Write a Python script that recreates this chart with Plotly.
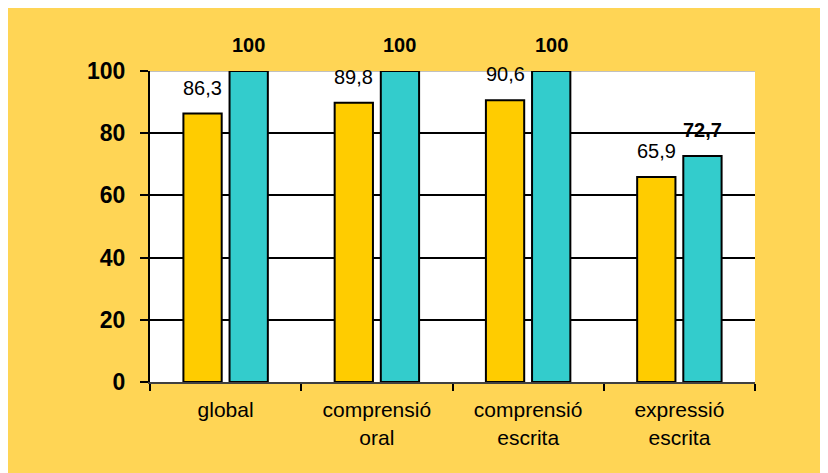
import plotly.graph_objects as go

categories = ["global", "comprensió<br>oral", "comprensió<br>escrita", "expressió<br>escrita"]
series_a = [86.3, 89.8, 90.6, 65.9]
series_b = [100, 100, 100, 72.7]
labels_a = ["86,3", "89,8", "90,6", "65,9"]
labels_b = ["100", "100", "100", "72,7"]
y_ticks = [0, 20, 40, 60, 80, 100]

FONT = "Arial, 'Liberation Sans', sans-serif"
BG = "#FFD555"

fig = go.Figure()
fig.add_trace(go.Bar(x=categories, y=series_a, marker=dict(color="#FFCC00", line=dict(color="black", width=2)),
                     hoverinfo="skip"))
fig.add_trace(go.Bar(x=categories, y=series_b, marker=dict(color="#33CCCC", line=dict(color="black", width=2)),
                     hoverinfo="skip"))

annotations = []
for c, v, t in zip(categories, series_a, labels_a):
    annotations.append(dict(x=c, y=v, text=t, showarrow=False, xshift=-23, yshift=26, yanchor="middle",
                            font=dict(family=FONT, size=20, color="black")))
for c, v, t in zip(categories, series_b, labels_b):
    annotations.append(dict(x=c, y=v, text="<b>" + t + "</b>", showarrow=False, xshift=23, yshift=26, yanchor="middle",
                            font=dict(family=FONT, size=20, color="black")))

fig.update_layout(
    width=840, height=485,
    margin=dict(l=142, r=93, t=63, b=111),
    paper_bgcolor=BG, plot_bgcolor="white",
    barmode="group", bargap=0.39, bargroupgap=0.17,
    showlegend=False,
    annotations=annotations,
    font=dict(family=FONT, color="black"),
    shapes=[
        dict(type="line", xref="paper", yref="y", x0=0, x1=1, y0=100, y1=100,
             line=dict(color="#C0C0C0", width=2), layer="below"),
    ],
)
fig.update_xaxes(
    type="category", showgrid=False, showline=True, linecolor="#404040", linewidth=2,
    ticks="outside", tickson="boundaries", ticklen=7, tickwidth=2, tickcolor="black",
    tickfont=dict(family=FONT, size=21, color="black"), ticklabelstandoff=8,
)
fig.update_yaxes(
    range=[0, 100], tickvals=y_ticks, ticktext=["<b>%d</b>" % v for v in y_ticks],
    showgrid=True, gridcolor="black", gridwidth=2, zeroline=False,
    showline=True, linecolor="black", linewidth=2,
    ticks="outside", ticklen=8, tickwidth=2, tickcolor="black",
    tickfont=dict(family=FONT, size=23, color="black"), ticklabelstandoff=10,
)

fig.write_html("out.html")
